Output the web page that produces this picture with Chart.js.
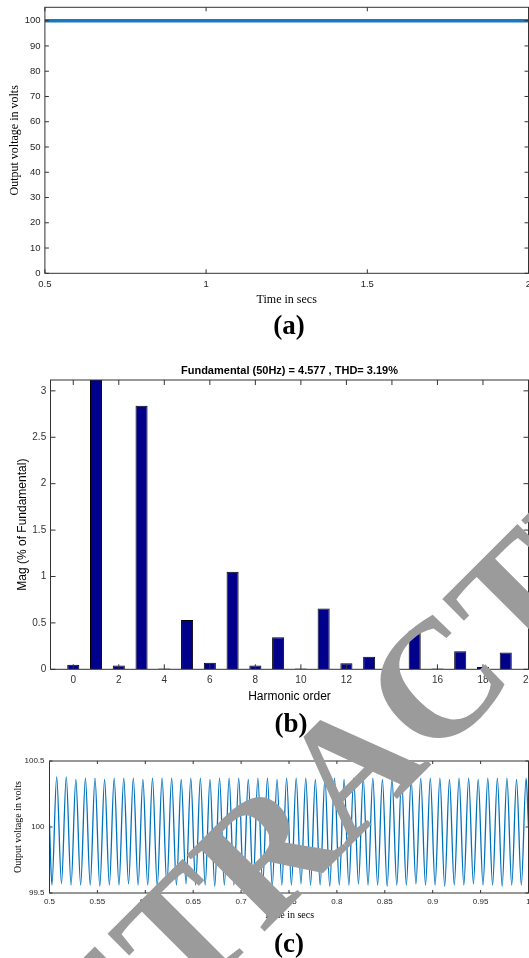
<!DOCTYPE html>
<html>
<head>
<meta charset="utf-8">
<title>Output voltage and harmonic spectrum</title>
<script src="https://cdn.jsdelivr.net/npm/chart.js@4.4.1/dist/chart.umd.min.js"></script>
<style>
  body { margin: 0; background: #fff; }
  #page { position: relative; width: 529px; height: 958px; overflow: hidden; background: #fff; }
  .panel { position: absolute; left: 0; }
  #overlay { position: absolute; left: 0; top: 0; pointer-events: none; }
  .cap { font-family: 'Liberation Serif', 'Times New Roman', serif; font-weight: bold; font-size: 27px; fill: #000; }
  .stamp { font-family: 'Liberation Serif', 'Times New Roman', serif; font-weight: bold; font-size: 167px; fill: #9b9b9b; }
</style>
</head>
<body>
<div id="page">
  <canvas id="chartA" class="panel" width="529" height="312" style="top:0px"></canvas>
  <canvas id="chartB" class="panel" width="529" height="355" style="top:355px"></canvas>
  <canvas id="chartC" class="panel" width="529" height="180" style="top:750px"></canvas>
  <svg id="overlay" width="529" height="958">
    <text class="cap" x="289" y="334" text-anchor="middle">(a)</text>
    <text class="cap" x="291" y="732" text-anchor="middle">(b)</text>
    <text class="cap" x="289" y="952" text-anchor="middle">(c)</text>
    <text class="stamp" x="19" y="1177" transform="rotate(-45 19 1177)">RETRACTED</text>
  </svg>
</div>

<script>
// ---- (a) output voltage, 0.5 - 2 s ----
const aTime = [0.5, 0.6, 0.7, 0.8, 0.9, 1.0, 1.1, 1.2, 1.3, 1.4, 1.5, 1.6, 1.7, 1.8, 1.9, 2.0];
const aVolt = [100.0, 100.0, 99.98, 100.0, 100.02, 100.0, 99.98, 100.0, 100.0, 100.02, 100.0, 99.98, 100.0, 100.0, 100.02, 100.0];
const aXTicks = [0.5, 1, 1.5, 2];
const aXLabels = ['0.5', '1', '1.5', '2'];
const aYTicks = [0, 10, 20, 30, 40, 50, 60, 70, 80, 90, 100];
const aYLabels = ['0', '10', '20', '30', '40', '50', '60', '70', '80', '90', '100'];

// ---- (b) FFT harmonic spectrum ----
const harmOrder = [0, 1, 2, 3, 4, 5, 6, 7, 8, 9, 10, 11, 12, 13, 14, 15, 16, 17, 18, 19];
const harmMag = [0.05, 100, 0.04, 2.84, 0.008, 0.53, 0.07, 1.05, 0.04, 0.345, 0.008, 0.655, 0.065, 0.135, 0.065, 0.415, 0.008, 0.195, 0.025, 0.18];
const bXTicks = [0, 2, 4, 6, 8, 10, 12, 14, 16, 18, 20];
const bXLabels = ['0', '2', '4', '6', '8', '10', '12', '14', '16', '18', '20'];
const bYTicks = [0, 0.5, 1, 1.5, 2, 2.5, 3];
const bYLabels = ['0', '0.5', '1', '1.5', '2', '2.5', '3'];
const bTitle = 'Fundamental (50Hz) = 4.577 , THD= 3.19%';

// ---- (c) output voltage ripple, 0.5 - 1 s (extrema) ----
const cTime = [
  0.5,
  0.5025, 0.5075, 0.5125, 0.5175, 0.5225, 0.5275, 0.5325, 0.5375, 0.5425, 0.5475,
  0.5525, 0.5575, 0.5625, 0.5675, 0.5725, 0.5775, 0.5825, 0.5875, 0.5925, 0.5975,
  0.6025, 0.6075, 0.6125, 0.6175, 0.6225, 0.6275, 0.6325, 0.6375, 0.6425, 0.6475,
  0.6525, 0.6575, 0.6625, 0.6675, 0.6725, 0.6775, 0.6825, 0.6875, 0.6925, 0.6975,
  0.7025, 0.7075, 0.7125, 0.7175, 0.7225, 0.7275, 0.7325, 0.7375, 0.7425, 0.7475,
  0.7525, 0.7575, 0.7625, 0.7675, 0.7725, 0.7775, 0.7825, 0.7875, 0.7925, 0.7975,
  0.8025, 0.8075, 0.8125, 0.8175, 0.8225, 0.8275, 0.8325, 0.8375, 0.8425, 0.8475,
  0.8525, 0.8575, 0.8625, 0.8675, 0.8725, 0.8775, 0.8825, 0.8875, 0.8925, 0.8975,
  0.9025, 0.9075, 0.9125, 0.9175, 0.9225, 0.9275, 0.9325, 0.9375, 0.9425, 0.9475,
  0.9525, 0.9575, 0.9625, 0.9675, 0.9725, 0.9775, 0.9825, 0.9875, 0.9925, 0.9975,
  1.0
];
const cVolt = [
  100.02,
  99.56, 100.38, 99.57, 100.38, 99.56, 100.36, 99.56, 100.37, 99.56, 100.37,
  99.55, 100.36, 99.56, 100.37, 99.56, 100.37, 99.57, 100.37, 99.56, 100.36,
  99.56, 100.37, 99.55, 100.37, 99.56, 100.37, 99.56, 100.36, 99.57, 100.37,
  99.56, 100.37, 99.56, 100.36, 99.55, 100.37, 99.56, 100.37, 99.56, 100.37,
  99.57, 100.36, 99.56, 100.37, 99.56, 100.37, 99.55, 100.36, 99.56, 100.37,
  99.56, 100.37, 99.57, 100.37, 99.56, 100.36, 99.56, 100.37, 99.55, 100.37,
  99.56, 100.36, 99.56, 100.37, 99.57, 100.37, 99.56, 100.37, 99.56, 100.36,
  99.55, 100.37, 99.56, 100.37, 99.56, 100.36, 99.57, 100.37, 99.56, 100.37,
  99.56, 100.37, 99.55, 100.36, 99.56, 100.37, 99.56, 100.37, 99.57, 100.36,
  99.56, 100.37, 99.56, 100.37, 99.55, 100.37, 99.56, 100.36, 99.56, 100.37,
  100.0
];
const cXTicks = [0.5, 0.55, 0.6, 0.65, 0.7, 0.75, 0.8, 0.85, 0.9, 0.95, 1];
const cXLabels = ['0.5', '0.55', '0.6', '0.65', '0.7', '0.75', '0.8', '0.85', '0.9', '0.95', '1'];
const cYTicks = [99.5, 100, 100.5];
const cYLabels = ['99.5', '100', '100.5'];

const SANS = "'Liberation Sans', Arial, sans-serif";
const NARROW = "'Liberation Sans Narrow', 'Arial Narrow', 'Liberation Sans', Arial, sans-serif";
const SERIF = "'Liberation Serif', 'Times New Roman', serif";
const BLUE = '#0072BD';

// MATLAB style box: frame round the plot area plus inward ticks on all four sides
const matlabBox = {
    id: 'matlabBox',
    afterDatasetsDraw(chart, args, opts) {
        const { ctx, chartArea: a, scales: { x, y } } = chart;
        const len = opts.len || 4;
        ctx.save();
        ctx.strokeStyle = opts.color || '#262626';
        ctx.lineWidth = 1;
        ctx.beginPath();
        x.ticks.forEach(t => {
            const px = x.getPixelForValue(t.value);
            ctx.moveTo(px, a.bottom); ctx.lineTo(px, a.bottom - len);
            ctx.moveTo(px, a.top); ctx.lineTo(px, a.top + len);
        });
        y.ticks.forEach(t => {
            const py = y.getPixelForValue(t.value);
            ctx.moveTo(a.left, py); ctx.lineTo(a.left + len, py);
            ctx.moveTo(a.right, py); ctx.lineTo(a.right - len, py);
        });
        ctx.stroke();
        ctx.strokeRect(a.left, a.top, a.right - a.left, a.bottom - a.top);
        ctx.restore();
    }
};

function fixedTicks(values) {
    return scale => { scale.ticks = values.map(v => ({ value: v })); };
}

// fixed axis box, no extra room for labels hanging over the ends
function fitTo(prop, size) {
    return s => {
        s[prop] = size;
        s.paddingLeft = 0; s.paddingRight = 0;
        s.paddingTop = 0; s.paddingBottom = 0;
    };
}

function axis(opts) {
    // common axis settings, ticks + labels come from the arrays above
    return {
        type: 'linear',
        min: opts.min,
        max: opts.max,
        offset: false,
        grid: { display: false, drawTicks: false },
        border: { display: false },
        afterBuildTicks: fixedTicks(opts.ticks),
        afterFit: opts.fit,
        ticks: {
            autoSkip: false,
            maxRotation: 0,
            padding: opts.pad,
            color: opts.tickColor || '#262626',
            font: { family: opts.tickFamily || SANS, size: opts.tickSize },
            callback: (v, i) => opts.labels[i]
        },
        title: {
            display: true,
            text: opts.title,
            color: '#000',
            font: { family: opts.titleFamily, size: opts.titleSize, lineHeight: 1.2 },
            padding: opts.titlePad
        }
    };
}

// (a)
new Chart(document.getElementById('chartA'), {
    type: 'line',
    data: {
        datasets: [{
            data: aTime.map((t, i) => ({ x: t, y: aVolt[i] })),
            borderColor: '#1a78c2',
            borderWidth: 3.5,
            pointRadius: 0,
            tension: 0,
            clip: 0
        }]
    },
    options: {
        responsive: false,
        animation: false,
        layout: { padding: { left: 0, right: 0.5, top: 7.3, bottom: 0 } },
        plugins: { legend: { display: false }, tooltip: { enabled: false }, matlabBox: { len: 4, color: '#333' } },
        scales: {
            x: axis({ min: 0.5, max: 2, ticks: aXTicks, labels: aXLabels, pad: 5.7, tickSize: 9.5,
                      title: 'Time in secs', titleFamily: SERIF, titleSize: 12, titlePad: { top: 0, bottom: 4.8 },
                      fit: fitTo('height', 38.7) }),
            y: axis({ min: 0, max: 105.3, ticks: aYTicks, labels: aYLabels, pad: 4.4, tickSize: 9.5,
                      title: 'Output voltage in volts', titleFamily: SERIF, titleSize: 12, titlePad: { top: 7.3, bottom: 0 },
                      fit: fitTo('width', 44.9) })
        }
    },
    plugins: [matlabBox]
});

// (b)
new Chart(document.getElementById('chartB'), {
    type: 'bar',
    data: {
        datasets: [{
            data: harmOrder.map((h, i) => ({ x: h, y: harmMag[i] })),
            backgroundColor: '#00008B',
            borderColor: '#000',
            borderWidth: 1,
            barPercentage: 0.53,
            categoryPercentage: 1,
            clip: 0
        }]
    },
    options: {
        responsive: false,
        animation: false,
        layout: { padding: { left: 0, right: 0.5, top: 0, bottom: 0 } },
        plugins: {
            legend: { display: false },
            tooltip: { enabled: false },
            title: {
                display: true,
                fullSize: false,
                text: bTitle,
                color: '#000',
                font: { family: SANS, size: 11, weight: 'bold', lineHeight: 1.2 },
                padding: { top: 9.1, bottom: 2.7 }
            },
            matlabBox: { len: 5, color: '#333' }
        },
        scales: {
            x: axis({ min: -1, max: 20, ticks: bXTicks, labels: bXLabels, pad: 4.7, tickSize: 10, tickColor: '#333',
                      title: 'Harmonic order', titleFamily: SANS, titleSize: 12, titlePad: { top: 0, bottom: 5.8 },
                      fit: fitTo('height', 40.7) }),
            y: axis({ min: 0, max: 3.117, ticks: bYTicks, labels: bYLabels, pad: 4.3, tickSize: 10, tickColor: '#333',
                      title: 'Mag (% of Fundamental)', titleFamily: SANS, titleSize: 12, titlePad: { top: 15.4, bottom: 0 },
                      fit: fitTo('width', 50.5) })
        }
    },
    plugins: [matlabBox]
});

// (c)
new Chart(document.getElementById('chartC'), {
    type: 'line',
    data: {
        datasets: [{
            data: cTime.map((t, i) => ({ x: t, y: cVolt[i] })),
            borderColor: BLUE,
            borderWidth: 1.3,
            pointRadius: 0,
            cubicInterpolationMode: 'monotone',
            clip: 0
        }]
    },
    options: {
        responsive: false,
        animation: false,
        layout: { padding: { left: 0, right: 0.5, top: 11, bottom: 0 } },
        plugins: { legend: { display: false }, tooltip: { enabled: false }, matlabBox: { len: 3, color: '#333' } },
        scales: {
            x: axis({ min: 0.5, max: 1, ticks: cXTicks, labels: cXLabels, pad: 4.2, tickSize: 8, tickFamily: NARROW,
                      title: 'Time in secs', titleFamily: SERIF, titleSize: 10, titlePad: { top: 0, bottom: 9 },
                      fit: fitTo('height', 37) }),
            y: axis({ min: 99.5, max: 100.5, ticks: cYTicks, labels: cYLabels, pad: 5, tickSize: 8, tickFamily: NARROW,
                      title: 'Output voltage in volts', titleFamily: SERIF, titleSize: 10, titlePad: { top: 12.6, bottom: 0 },
                      fit: fitTo('width', 49.5) })
        }
    },
    plugins: [matlabBox]
});
</script>
</body>
</html>
